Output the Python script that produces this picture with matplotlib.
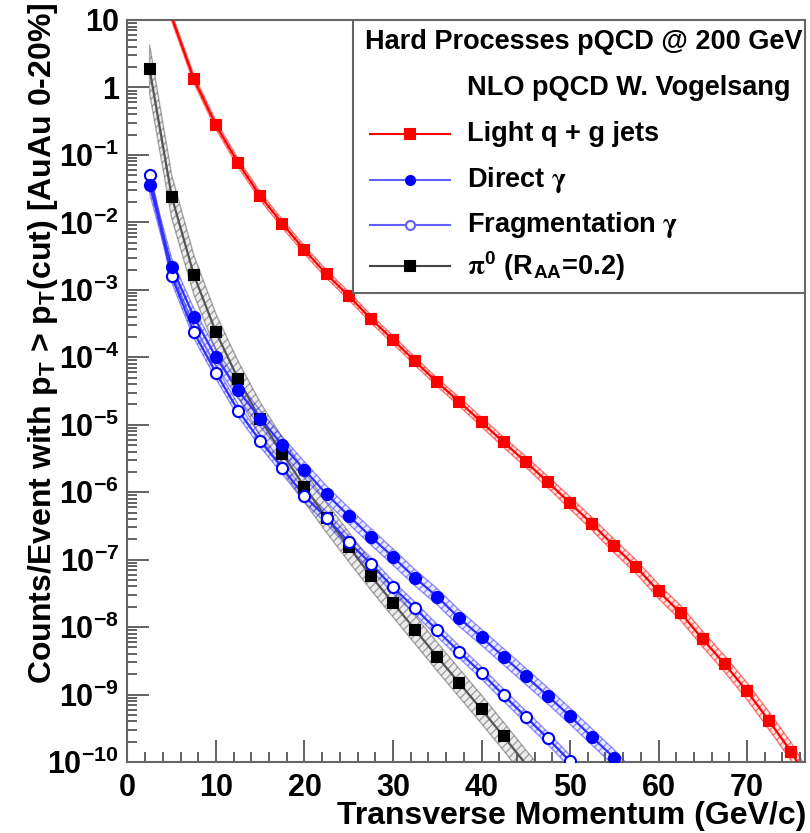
import numpy as np
import matplotlib
matplotlib.use("Agg")
import matplotlib.pyplot as plt
from matplotlib.ticker import FixedLocator, MultipleLocator, FuncFormatter, NullFormatter
from matplotlib.lines import Line2D
from matplotlib.patches import Rectangle

plt.rcParams['font.family'] = ['Liberation Sans', 'DejaVu Sans']
plt.rcParams['font.weight'] = 'bold'
plt.rcParams['mathtext.fontset'] = 'stix'

# pT (GeV/c) and log10(counts/event)
jet_pt = [5, 7.5, 10, 12.5, 15, 17.5, 20, 22.5, 25, 27.5, 30, 32.5, 35, 37.5, 40,
          42.5, 45, 47.5, 50, 52.5, 55, 57.5, 60, 62.5, 65, 67.5, 70, 72.5, 75, 77.5]
jet_log = [1.04, 0.125, -0.56, -1.12, -1.61, -2.02, -2.41, -2.77, -3.09, -3.43, -3.74,
           -4.06, -4.37, -4.66, -4.96, -5.26, -5.55, -5.85, -6.16, -6.47, -6.80,
           -7.11, -7.47, -7.79, -8.18, -8.55, -8.95, -9.39, -9.85, -10.4]
jet_band = [0.06, 0.06, 0.06, 0.06, 0.06, 0.06, 0.06, 0.06, 0.06, 0.06, 0.06,
            0.06, 0.06, 0.065, 0.07, 0.075, 0.08, 0.085, 0.09, 0.095, 0.10,
            0.10, 0.105, 0.11, 0.115, 0.12, 0.125, 0.13, 0.135, 0.14]

dir_pt = [2.5, 5, 7.5, 10, 12.5, 15, 17.5, 20, 22.5, 25, 27.5, 30, 32.5, 35, 37.5,
          40, 42.5, 45, 47.5, 50, 52.5, 55, 57.5]
dir_log = [-1.45, -2.66, -3.40, -4.00, -4.49, -4.91, -5.30, -5.67, -6.03, -6.35,
           -6.66, -6.96, -7.27, -7.55, -7.87, -8.15, -8.44, -8.73, -9.02, -9.32,
           -9.63, -9.94, -10.3]
dir_band = 0.12

frag_pt = [2.5, 5, 7.5, 10, 12.5, 15, 17.5, 20, 22.5, 25, 27.5, 30, 32.5, 35, 37.5,
           40, 42.5, 45, 47.5, 50, 52.5]
frag_log = [-1.30, -2.80, -3.63, -4.23, -4.79, -5.24, -5.64, -6.06, -6.38, -6.74,
            -7.06, -7.41, -7.72, -8.05, -8.37, -8.68, -9.01, -9.33, -9.65, -9.99,
            -10.35]
frag_band = 0.09

pi0_pt = [2.5, 5, 7.5, 10, 12.5, 15, 17.5, 20, 22.5, 25, 27.5, 30, 32.5, 35, 37.5,
          40, 42.5, 45, 47.5]
pi0_log = [0.27, -1.62, -2.78, -3.63, -4.32, -4.92, -5.43, -5.92, -6.38, -6.81,
           -7.24, -7.64, -8.04, -8.44, -8.83, -9.22, -9.62, -10.03, -10.42]
pi0_band = [0.36, 0.32, 0.29, 0.27, 0.26, 0.25, 0.24, 0.23, 0.22, 0.22, 0.21,
            0.21, 0.21, 0.21, 0.21, 0.21, 0.21, 0.21, 0.21]

y_exps = list(range(-10, 2))

series = [
    (jet_pt, jet_log, jet_band, '#ff0000', '#ff0000', 's', True),
    (pi0_pt, pi0_log, pi0_band, '#555555', '#000000', 's', True),
    (frag_pt, frag_log, frag_band, '#3030ff', '#0000ff', 'o', False),
    (dir_pt, dir_log, dir_band, '#3030ff', '#0000ff', 'o', True),
]

fig = plt.figure(figsize=(8.1, 8.33), dpi=100)
ax = fig.add_axes([0.1574, 0.0852, 0.8364, 0.8908])

for pt, lg, bw, lc, mc, mk, filled in series:
    pt = np.array(pt)
    lg = np.array(lg)
    bw = np.broadcast_to(np.array(bw, dtype=float), lg.shape)
    y = 10.0 ** lg
    ax.fill_between(pt, 10.0 ** (lg - bw), 10.0 ** (lg + bw), facecolor=lc, alpha=0.10, lw=0)
    ax.fill_between(pt, 10.0 ** (lg - bw), 10.0 ** (lg + bw), facecolor='none',
                    edgecolor=lc, hatch='////', lw=1.0, alpha=0.5)
    ax.plot(pt, y, color=lc, lw=1.6, zorder=3)
    vis = (y >= 1e-10 * 0.97) & (y <= 10)
    ax.plot(pt[vis], y[vis], ls='none', marker=mk, ms=7.5 if mk == 's' else 8,
            mfc=mc if filled else 'white', mec=mc, mew=1.5, zorder=4)

ax.set_yscale('log')
ax.set_xlim(0, 76.55)
ax.set_ylim(1e-10, 10)

ax.xaxis.set_major_locator(MultipleLocator(10))
ax.xaxis.set_minor_locator(MultipleLocator(2))
ax.yaxis.set_major_locator(FixedLocator([10.0 ** e for e in y_exps]))
ax.yaxis.set_minor_locator(FixedLocator([m * 10.0 ** e for e in y_exps[:-1] for m in range(2, 10)]))
ax.yaxis.set_minor_formatter(NullFormatter())


def fmt_pow(v, pos):
    e = int(round(np.log10(v)))
    if e == 0:
        return '1'
    if e == 1:
        return '10'
    return r'$\mathdefault{10^{%d}}$' % e


ax.yaxis.set_major_formatter(FuncFormatter(fmt_pow))
ax.tick_params(which='both', direction='in', top=False, right=False,
               color='#555555', width=1.3, labelsize=22)
ax.tick_params(which='major', length=15.5)
ax.tick_params(which='minor', length=7.5)
ax.tick_params(axis='x', pad=8)
ax.tick_params(axis='y', pad=6)
for lbl in ax.get_xticklabels() + ax.get_yticklabels():
    lbl.set_fontweight('bold')
for sp in ax.spines.values():
    sp.set_color('#666666')
    sp.set_linewidth(1.5)

fig.text(0.053, 0.997, r'Counts/Event with p$_{\mathdefault{T}}$ > p$_{\mathdefault{T}}$(cut) [AuAu 0-20%]',
         rotation=90, ha='center', va='top', fontsize=23, fontweight='bold')
fig.text(0.996, 0.021, 'Transverse Momentum (GeV/c)', ha='right', va='center',
         fontsize=23, fontweight='bold')

# legend box
lx0, ly0 = 0.333, 0.632
fs_leg = 19.5
ax.add_patch(Rectangle((lx0, ly0), 1 - lx0, 1 - ly0, transform=ax.transAxes,
                       facecolor='white', edgecolor='#666666', lw=1.5, zorder=10))
ax.text(0.3506, 0.970, 'Hard Processes pQCD @ 200 GeV', transform=ax.transAxes,
        va='center', ha='left', fontsize=fs_leg, fontweight='bold', zorder=11)
ax.text(0.501, 0.908, 'NLO pQCD W. Vogelsang', transform=ax.transAxes,
        va='center', ha='left', fontsize=fs_leg, fontweight='bold', zorder=11)
entries = [
    ('Light q + g jets', '#ff0000', '#ff0000', 's', True, 0.846),
    (r'Direct $\mathrm{\gamma}$', '#6060ff', '#0000ff', 'o', True, 0.784),
    (r'Fragmentation $\mathrm{\gamma}$', '#6060ff', '#6060ff', 'o', False, 0.724),
    (r'$\mathrm{\pi}^{\mathdefault{0}}$ (R$_{\mathdefault{AA}}$=0.2)', '#444444', '#000000', 's', True, 0.668),
]
for txt, lc, mc, mk, filled, yy in entries:
    ax.add_line(Line2D([0.358, 0.476], [yy, yy], transform=ax.transAxes, color=lc,
                       lw=1.5, zorder=11))
    ax.add_line(Line2D([0.417], [yy], transform=ax.transAxes, ls='none', marker=mk,
                       ms=6.5, mfc=mc if filled else 'white', mec=mc, mew=1.5, zorder=12))
    ax.text(0.501, yy, txt, transform=ax.transAxes, va='center', ha='left',
            fontsize=fs_leg, fontweight='bold', zorder=11)

fig.savefig('out.png', dpi=100)
